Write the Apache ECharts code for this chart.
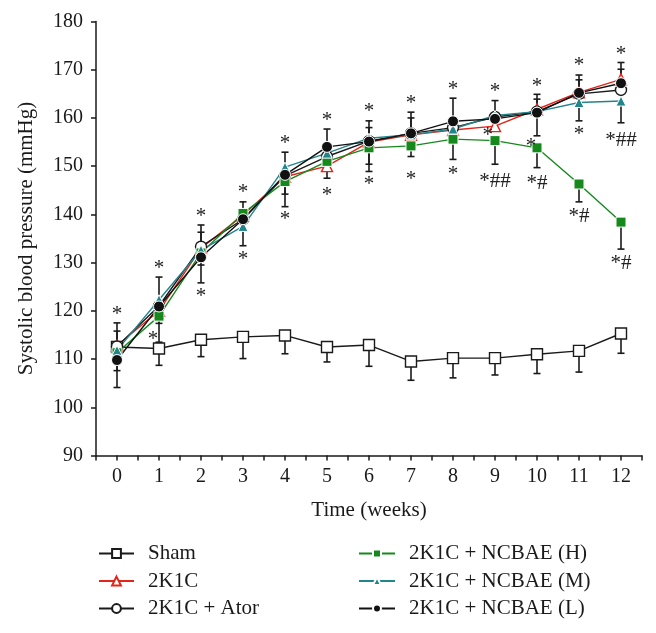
<!DOCTYPE html>
<html><head><meta charset="utf-8">
<script src="https://cdn.jsdelivr.net/npm/echarts@6/dist/echarts.min.js"></script>
<style>html,body{margin:0;padding:0;background:#fff}#c{width:656px;height:633px}</style>
</head><body><div id="c"></div>
<script>
const FONT = '"Liberation Serif", "Times New Roman", serif';
const weeks = [0,1,2,3,4,5,6,7,8,9,10,11,12];
const seriesNames = ['Sham','2K1C','2K1C + Ator','2K1C + NCBAE (H)','2K1C + NCBAE (M)','2K1C + NCBAE (L)'];

// means (mmHg)
const sham = [112.5,112.2,114.0,114.6,114.9,112.5,112.9,109.5,110.2,110.2,111.0,111.7,115.3];
const k2c  = [112.8,120.0,133.0,139.8,147.8,150.0,155.0,156.5,157.5,158.3,161.8,165.3,168.0];
const ator = [112.6,121.0,133.3,139.0,148.0,152.0,155.2,156.8,158.0,160.2,161.3,165.0,165.8];
const ncbH = [111.3,118.9,132.0,140.2,146.8,151.0,153.8,154.2,155.6,155.3,153.8,146.3,138.4];
const ncbM = [111.8,122.3,132.6,137.5,149.8,152.7,155.8,156.5,157.7,160.5,161.3,163.2,163.5];
const ncbL = [109.8,120.9,131.1,139.0,148.2,154.0,155.1,156.8,159.3,159.8,161.1,165.2,167.2];

// error bar lengths (0 = not drawn)
const shamDown = [0,3.5,3.5,4.5,3.8,3.1,4.4,3.9,4.1,3.5,4.0,4.4,4.1];
const k2cUp    = [3.0,0,3.3,0,0,0,3.0,3.5,0,0,2.1,2.6,2.1];
const k2cDown  = [0,2.6,3.5,0,3.6,0,4.6,3.1,0,0,0,0,0];
const ncbHDown = [3.7,5.4,6.2,6.7,5.2,3.5,4.9,2.2,4.2,4.9,4.1,3.7,5.6];
const ncbMDown = [0,0,0,0,0,0,0,0,0,0,5.0,3.8,4.5];
const ncbLUp   = [7.7,6.1,6.7,3.6,4.7,3.7,4.3,4.4,4.8,3.8,3.8,3.7,4.3];
const ncbLDown = [5.7,0,0,0,0,0,0,0,0,0,0,0,0];

// significance marks
const starAbove = [119.8,129.5,140.2,145.2,155.4,160.1,162.0,163.6,166.5,166.2,167.2,171.4,173.7];
const markX = [0.86,2,3,4,5,6,7,8,8.83,9,9.86,10,11,11,12,12];
const markY = [114.6,123.6,131.2,139.5,144.5,146.8,147.8,149.0,156.9,147.5,154.7,147.0,157.2,140.1,156.0,130.4];
const markText = ['*','*','*','*','*','*','*','*','*','*##','*','*#','*','*#','*##','*#'];

const chart = echarts.init(document.getElementById('c'), null, {renderer:'canvas'});

function errSeries(means, up, down){
  return {
    type:'custom', z:1, silent:true,
    data: weeks.map((w,i)=>[w, means[i], up ? up[i] : 0, down ? down[i] : 0]),
    encode:{x:0,y:1},
    renderItem(params, api){
      const x = api.value(0), m = api.value(1), u = api.value(2), d = api.value(3);
      const c = api.coord([x,m]);
      const hw = 3.5, st = {stroke:'#1a1a1a', lineWidth:1.6};
      const ch = [];
      [[u,1],[d,-1]].forEach(([e,s])=>{
        if (e > 0){
          const t = api.coord([x, m + s*e]);
          ch.push({type:'line', shape:{x1:c[0],y1:c[1],x2:t[0],y2:t[1]}, style:st});
          ch.push({type:'line', shape:{x1:t[0]-hw,y1:t[1],x2:t[0]+hw,y2:t[1]}, style:st});
        }
      });
      return {type:'group', children:ch};
    }
  };
}

function lineSeries(name, vals, color, symbol, size, fill, border, bw){
  return {
    name, type:'line', data: weeks.map((w,i)=>[w, vals[i]]),
    symbol, symbolSize:size, showAllSymbol:true,
    lineStyle:{color, width:1.4},
    itemStyle:{color:fill, borderColor:border, borderWidth:bw},
    emphasis:{disabled:true}, z:3
  };
}

const textSeries = {
  type:'custom', z:5, silent:true,
  data: weeks.map((w,i)=>[w, starAbove[i]]).concat(markX.map((x,i)=>[x, markY[i]])),
  encode:{x:0,y:1},
  renderItem(params, api){
    const i = params.dataIndex;
    const txt = i < weeks.length ? '*' : markText[i - weeks.length];
    const c = api.coord([api.value(0), api.value(1)]);
    return {type:'text', x:c[0], y:c[1]+3, style:{text:txt, font:'21px ' + FONT, fill:'#222', align:'center', verticalAlign:'middle'}};
  }
};

const legendText = {fontFamily:FONT, fontSize:21, lineHeight:21, color:'#1a1a1a', padding:[0,0,0,9]};

chart.setOption({
  animation:false,
  grid:{left:96, right:14, top:21.5, bottom:177.5},
  xAxis:{
    type:'value', min:-0.5, max:12.5, interval:0.5,
    name:'Time (weeks)', nameLocation:'middle', nameGap:44,
    nameTextStyle:{fontFamily:FONT, fontSize:21, color:'#1a1a1a'},
    axisLine:{onZero:false, lineStyle:{color:'#1a1a1a', width:1.5}},
    axisTick:{length:5, lineStyle:{color:'#1a1a1a', width:1.5}},
    axisLabel:{fontFamily:FONT, fontSize:20, color:'#1a1a1a', margin:11,
      formatter:v=> Number.isInteger(v) ? String(v) : ''},
    splitLine:{show:false}
  },
  yAxis:{
    type:'value', min:90, max:180, interval:10,
    name:'Systolic blood pressure (mmHg)', nameLocation:'middle', nameGap:59, nameRotate:90,
    nameTextStyle:{fontFamily:FONT, fontSize:21, color:'#1a1a1a'},
    axisLine:{show:true, onZero:false, lineStyle:{color:'#1a1a1a', width:1.5}},
    axisTick:{show:true, length:5, lineStyle:{color:'#1a1a1a', width:1.5}},
    axisLabel:{fontFamily:FONT, fontSize:20, color:'#1a1a1a', margin:13},
    splitLine:{show:false}
  },
  legend:[
    {data:seriesNames.slice(0,3), orient:'vertical', left:98, top:543, padding:0, itemWidth:35, itemHeight:11, itemGap:6.5,
     textStyle:legendText, selectedMode:false},
    {data:seriesNames.slice(3), orient:'vertical', left:358, top:543, padding:0, itemWidth:36, itemHeight:10, itemGap:6.5,
     textStyle:legendText, selectedMode:false}
  ],
  series:[
    errSeries(sham, null, shamDown),
    errSeries(k2c, k2cUp, k2cDown),
    errSeries(ncbH, null, ncbHDown),
    errSeries(ncbM, null, ncbMDown),
    errSeries(ncbL, ncbLUp, ncbLDown),
    lineSeries(seriesNames[0], sham, '#1a1a1a', 'rect', 11, '#fff', '#1a1a1a', 1.4),
    lineSeries(seriesNames[1], k2c, '#e3241b', 'triangle', 11, '#fff', '#e3241b', 1.4),
    lineSeries(seriesNames[2], ator, '#1a1a1a', 'circle', 11, '#fff', '#1a1a1a', 1.4),
    lineSeries(seriesNames[3], ncbH, '#15891c', 'rect', 10, '#15891c', '#fff', 1),
    lineSeries(seriesNames[4], ncbM, '#23858c', 'triangle', 10, '#23858c', '#fff', 1),
    lineSeries(seriesNames[5], ncbL, '#111', 'circle', 11, '#111', '#fff', 1),
    textSeries
  ]
});
</script></body></html>
